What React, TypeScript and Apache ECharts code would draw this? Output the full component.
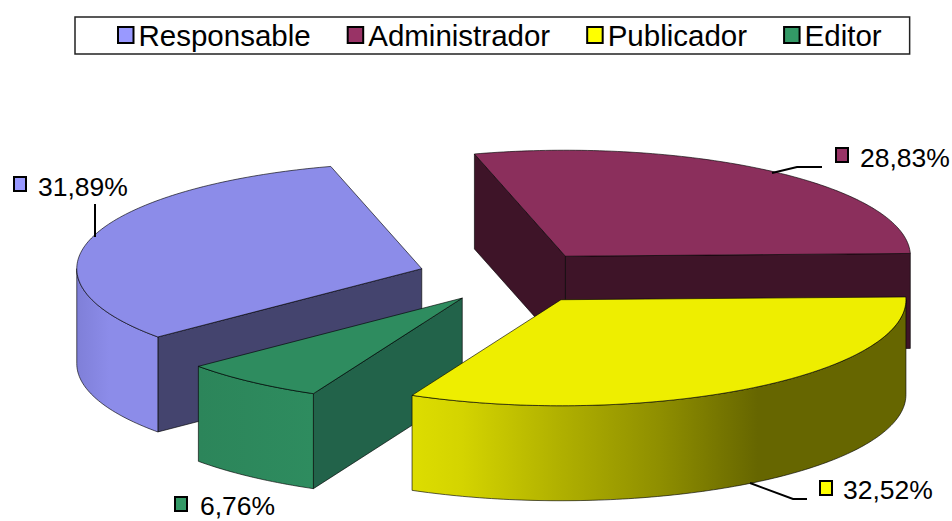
import React, { useEffect, useRef } from "react";
import * as echarts from "echarts";

const categories = ["Responsable", "Administrador", "Publicador", "Editor"];
const shares = [31.89, 28.83, 32.52, 6.76];
const legendColors = ["#9999ff", "#993366", "#ffff00", "#339966"];
const topColors = ["#8c8ce9", "#8b2f5c", "#eeee00", "#2e8c5f"];
const wallColors = ["#44446e", "#3e1428", "#666600", "#22634a"];
const outerWallStops: [number, string][][] = [
  [[0, "#7f7fd8"], [0.4, "#8c8ce9"], [1, "#8c8ce9"]],
  [[0, "#3e1428"], [1, "#3e1428"]],
  [[0, "#dddd00"], [0.1, "#d4d400"], [0.3, "#b0b000"], [0.5, "#8f8f00"], [0.7, "#666600"], [1, "#666600"]],
  [[0, "#2c855a"], [1, "#2e8c5f"]],
];
const explode = [0.28, 0.25, 0.25, 0.245];
const drawOrder = [1, 0, 3, 2];

const CX = 514;
const CY = 277.5;
const RX = 345;
const RY = 106;
const DEPTH = 95;
const FIRST_ANGLE = 229.9;
const FONT = '"Liberation Sans", Arial, sans-serif';

const labelLayout = [
  { key: [14, 177], text: [38, 187], line: [[95, 237], [95, 204]] },
  { key: [836, 148], text: [860, 158], line: [[772, 173], [797, 167], [822, 167]] },
  { key: [820, 481], text: [843, 490], line: [[750, 483], [793, 499], [807, 499]] },
  { key: [175, 497], text: [200, 506], line: [] as number[][] },
];

const rad = (d: number) => (d * Math.PI) / 180;

function sliceRange(i: number) {
  let a = FIRST_ANGLE;
  for (let k = 0; k < i; k++) a += (shares[k] / 100) * 360;
  return [a, a + (shares[i] / 100) * 360];
}

function renderSlice(i: number) {
  return () => {
    const [a, b] = sliceRange(i);
    const mid = (a + b) / 2;
    const ax = CX + Math.sin(rad(mid)) * RX * explode[i];
    const ay = CY - Math.cos(rad(mid)) * RY * explode[i];
    const pt = (t: number, dz = 0) => [ax + Math.sin(rad(t)) * RX, ay - Math.cos(rad(t)) * RY + dz];
    const arc = (from: number, to: number, dz = 0) => {
      const out: number[][] = [];
      const n = Math.max(2, Math.ceil(Math.abs(to - from)));
      for (let k = 0; k <= n; k++) out.push(pt(from + ((to - from) * k) / n, dz));
      return out;
    };
    const edge = { stroke: "rgba(0,0,0,0.7)", lineWidth: 0.9, lineJoin: "round" };
    const children: any[] = [];
    const norm = (x: number) => ((x % 360) + 360) % 360;
    const wall = (t: number) => ({
      type: "polygon",
      shape: { points: [[ax, ay], pt(t), pt(t, DEPTH), [ax, ay + DEPTH]] },
      style: { fill: wallColors[i], ...edge },
    });
    if (norm(a) > 180) children.push(wall(a));
    if (norm(b) < 180) children.push(wall(b));

    // outer curved wall: only the part that faces the viewer
    for (const off of [0, 360]) {
      const from = Math.max(a, 90 + off);
      const to = Math.min(b, 270 + off);
      if (to > from) {
        const stops = outerWallStops[i].map(([offset, color]) => ({ offset, color }));
        children.push({
          type: "polygon",
          shape: { points: [...arc(from, to), ...arc(to, from, DEPTH)] },
          style: { fill: new echarts.graphic.LinearGradient(0, 0, 1, 0, stops), ...edge },
        });
      }
    }
    children.push({
      type: "polygon",
      shape: { points: [[ax, ay], ...arc(a, b)] },
      style: { fill: topColors[i], ...edge },
    });

    const lay = labelLayout[i];
    if (lay.line.length) {
      children.push({
        type: "polyline",
        shape: { points: lay.line },
        style: { stroke: "#000", lineWidth: 2, fill: "none" },
      });
    }
    children.push({
      type: "rect",
      shape: { x: lay.key[0], y: lay.key[1], width: 12, height: 14 },
      style: { fill: legendColors[i], stroke: "#000", lineWidth: 2 },
    });
    children.push({
      type: "text",
      style: {
        x: lay.text[0],
        y: lay.text[1],
        text: shares[i].toFixed(2).replace(".", ",") + "%",
        font: `26.5px ${FONT}`,
        fill: "#000",
        textVerticalAlign: "middle",
        verticalAlign: "middle",
      },
    });
    return { type: "group", children };
  };
}

export default function App() {
  const ref = useRef<HTMLDivElement>(null);
  useEffect(() => {
    const chart = echarts.init(ref.current!, null, { renderer: "svg" });
    chart.setOption({
      animation: false,
      backgroundColor: "#fff",
      legend: {
        data: categories,
        left: 75,
        top: 17,
        orient: "horizontal",
        itemWidth: 15.5,
        itemHeight: 16,
        itemGap: 36,
        padding: [3, 28, 4, 42],
        borderColor: "#222",
        borderWidth: 1.5,
        backgroundColor: "#fff",
        icon: "rect",
        itemStyle: { borderColor: "#000", borderWidth: 2 },
        textStyle: { fontFamily: FONT, fontSize: 29.5, color: "#000", padding: [0, 0, 0, 0] },
        selectedMode: false,
      },
      series: drawOrder.map((i) => ({
        type: "custom",
        name: categories[i],
        coordinateSystem: "none",
        silent: true,
        itemStyle: { color: legendColors[i] },
        data: [shares[i]],
        renderItem: renderSlice(i),
      })),
    });
    return () => chart.dispose();
  }, []);
  return <div ref={ref} style={{ position: "fixed", left: 0, top: 0, width: 952, height: 521 }} />;
}
